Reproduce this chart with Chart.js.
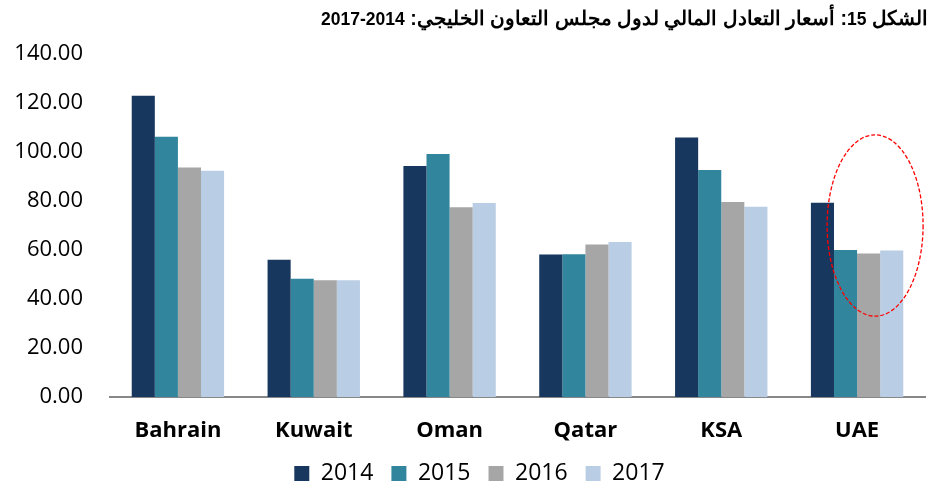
<!DOCTYPE html>
<html>
<head>
<meta charset="utf-8">
<script src="https://cdn.jsdelivr.net/npm/chart.js@4.4.1/dist/chart.umd.min.js"></script>
<style>
  html, body { margin: 0; padding: 0; background: #fff; }
  #wrap { position: relative; width: 933px; height: 485px; }
  #title {
    position: absolute; top: 7px; right: 5px;
    font: bold 19.5px "Liberation Sans", Arial, sans-serif; color: #000;
    direction: rtl; white-space: nowrap; line-height: 22px;
  }
  #title .num { font-size: 17.5px; }
  canvas { display: block; }
</style>
</head>
<body>
<div id="wrap">
  <div id="title" dir="rtl">الشكل <span class="num">15</span>: أسعار التعادل المالي لدول مجلس التعاون الخليجي: <span class="num">2014-2017</span></div>
  <canvas id="gccChart" width="933" height="485"></canvas>
</div>
<script>
// ---- данные ----
const countries = ["Bahrain", "Kuwait", "Oman", "Qatar", "KSA", "UAE"];
const years = ["2014", "2015", "2016", "2017"];
const v2014 = [123.0, 56.0, 94.3, 58.2, 105.9, 79.3];
const v2015 = [106.2, 48.3, 99.2, 58.3, 92.7, 60.0];
const v2016 = [93.7, 47.7, 77.4, 62.2, 79.6, 58.6];
const v2017 = [92.3, 47.7, 79.2, 63.3, 77.7, 59.8];
const yTicks = [0, 20, 40, 60, 80, 100, 120, 140];

const yearColors = ["#17375E", "#31859C", "#A6A6A6", "#B9CDE5"];

// красный пунктирный овал вокруг UAE
const uaeOval = {
  id: "uaeOval",
  afterDatasetsDraw(chart) {
    const { ctx, scales: { x, y } } = chart;
    const cx = x.getPixelForValue(5) + 18;
    const cy = y.getPixelForValue(70);
    const ry = y.getPixelForValue(33) - cy;
    ctx.save();
    ctx.beginPath();
    ctx.ellipse(cx, cy, 48, ry, 0, 0, Math.PI * 2);
    ctx.strokeStyle = "#FF0000";
    ctx.lineWidth = 1.3;
    ctx.setLineDash([4, 2]);
    ctx.stroke();
    ctx.restore();
  }
};

// легенда чуть правее центра, как в оригинале
const legendShift = {
  id: "legendShift",
  afterLayout(chart) {
    if (chart.legend) {
      chart.legend.left += 17;
      chart.legend.right += 17;
    }
  }
};

const ctx = document.getElementById("gccChart").getContext("2d");
const seriesValues = [v2014, v2015, v2016, v2017];

new Chart(ctx, {
  type: "bar",
  data: {
    labels: countries,
    datasets: years.map((yr, i) => ({
      label: yr,
      data: seriesValues[i],
      backgroundColor: yearColors[i],
      borderWidth: 0,
      categoryPercentage: 0.68,
      barPercentage: 1.0
    }))
  },
  options: {
    responsive: false,
    animation: false,
    layout: { padding: { top: 54, right: 8, left: 0, bottom: -10 } },
    plugins: {
      legend: {
        position: "bottom",
        labels: {
          boxWidth: 15, boxHeight: 15, padding: 18, color: "#000",
          font: { family: "'Open Sans', sans-serif", size: 23 }
        }
      },
      tooltip: { enabled: false }
    },
    scales: {
      x: {
        grid: { display: false, drawTicks: false },
        border: { display: true, color: "#878787", width: 2 },
        ticks: {
          color: "#000", padding: 21,
          font: { family: "'Open Sans', sans-serif", size: 22, weight: "bold" }
        },
        afterFit: (s) => { s.height = 47; }
      },
      y: {
        min: 0, max: 140,
        afterBuildTicks: (s) => { s.ticks = yTicks.map(v => ({ value: v })); },
        grid: { display: false, drawTicks: false },
        border: { display: false },
        ticks: {
          color: "#000", padding: 27,
          font: { family: "'Open Sans', sans-serif", size: 22 },
          callback: (v) => Number(v).toFixed(2)
        },
        afterFit: (s) => { s.width = 110; }
      }
    }
  },
  plugins: [uaeOval, legendShift]
});
</script>
</body>
</html>
